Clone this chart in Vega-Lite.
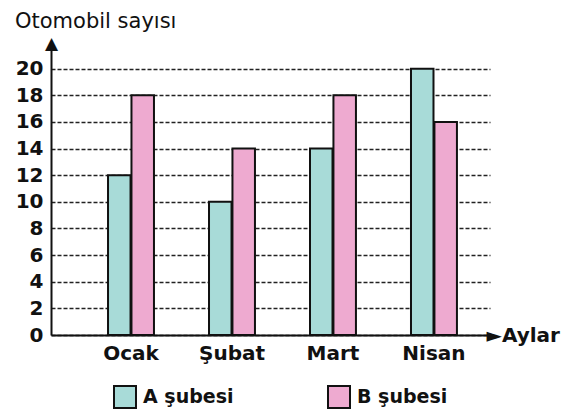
{
  "$schema": "https://vega.github.io/schema/vega-lite/v6.json",
  "width": 439,
  "height": 293,
  "autosize": "none",
  "padding": {"left": 51, "top": 42, "right": 97, "bottom": 77},
  "background": "white",
  "title": {
    "text": "Otomobil sayısı",
    "anchor": "start",
    "frame": "group",
    "font": "DejaVu Sans",
    "fontSize": 21,
    "fontWeight": "normal",
    "color": "#111111",
    "dx": -36,
    "dy": -2,
    "offset": 0
  },
  "config": {
    "view": {"stroke": null},
    "axis": {"labelFont": "DejaVu Sans", "titleFont": "DejaVu Sans"},
    "legend": {"labelFont": "DejaVu Sans"}
  },
  "data": {
    "values": [
      {"ay": "Ocak", "sube": "A şubesi", "sayi": 12},
      {"ay": "Ocak", "sube": "B şubesi", "sayi": 18},
      {"ay": "Şubat", "sube": "A şubesi", "sayi": 10},
      {"ay": "Şubat", "sube": "B şubesi", "sayi": 14},
      {"ay": "Mart", "sube": "A şubesi", "sayi": 14},
      {"ay": "Mart", "sube": "B şubesi", "sayi": 18},
      {"ay": "Nisan", "sube": "A şubesi", "sayi": 20},
      {"ay": "Nisan", "sube": "B şubesi", "sayi": 16}
    ]
  },
  "mark": {"type": "bar", "stroke": "#111111", "strokeWidth": 2},
  "encoding": {
    "x": {
      "field": "ay",
      "type": "nominal",
      "sort": ["Ocak", "Şubat", "Mart", "Nisan"],
      "scale": {"paddingInner": 0.545, "paddingOuter": 0.446, "align": 0.633},
      "axis": {
        "domainColor": "#111111",
        "domainWidth": 2,
        "ticks": false,
        "grid": false,
        "labelAngle": 0,
        "labelFontSize": 20,
        "labelFontWeight": "bold",
        "labelColor": "#111111",
        "labelPadding": 8,
        "title": "►Aylar",
        "titleFontSize": 20,
        "titleFontWeight": "bold",
        "titleColor": "#111111",
        "titleX": 435,
        "titleY": 0,
        "titleAlign": "left",
        "titleBaseline": "middle",
        "titleAngle": 0
      }
    },
    "xOffset": {
      "field": "sube",
      "type": "nominal",
      "scale": {"paddingInner": 0.04}
    },
    "y": {
      "field": "sayi",
      "type": "quantitative",
      "scale": {"domain": [0, 22], "nice": false, "zero": true},
      "axis": {
        "values": [0, 2, 4, 6, 8, 10, 12, 14, 16, 18, 20],
        "domainColor": "#111111",
        "domainWidth": 2,
        "ticks": false,
        "grid": true,
        "gridColor": "#222222",
        "gridDash": [4, 2],
        "gridWidth": 1.3,
        "labelFontSize": 20,
        "labelFontWeight": "bold",
        "labelColor": "#111111",
        "labelPadding": 8,
        "title": "▲",
        "titleFontSize": 17,
        "titleColor": "#111111",
        "titleX": 0,
        "titleY": 1,
        "titleAngle": 0,
        "titleAlign": "center",
        "titleBaseline": "middle"
      }
    },
    "color": {
      "field": "sube",
      "type": "nominal",
      "scale": {"domain": ["A şubesi", "B şubesi"], "range": ["#a8dbd8", "#eeaad0"]},
      "legend": {
        "orient": "none",
        "legendX": 62,
        "legendY": 343,
        "direction": "horizontal",
        "title": null,
        "symbolType": "square",
        "symbolSize": 484,
        "symbolStrokeColor": "#111111",
        "symbolStrokeWidth": 2,
        "symbolOpacity": 1,
        "labelFontSize": 19,
        "labelFontWeight": "bold",
        "labelColor": "#111111",
        "labelOffset": 6,
        "columnPadding": 90
      }
    }
  }
}
